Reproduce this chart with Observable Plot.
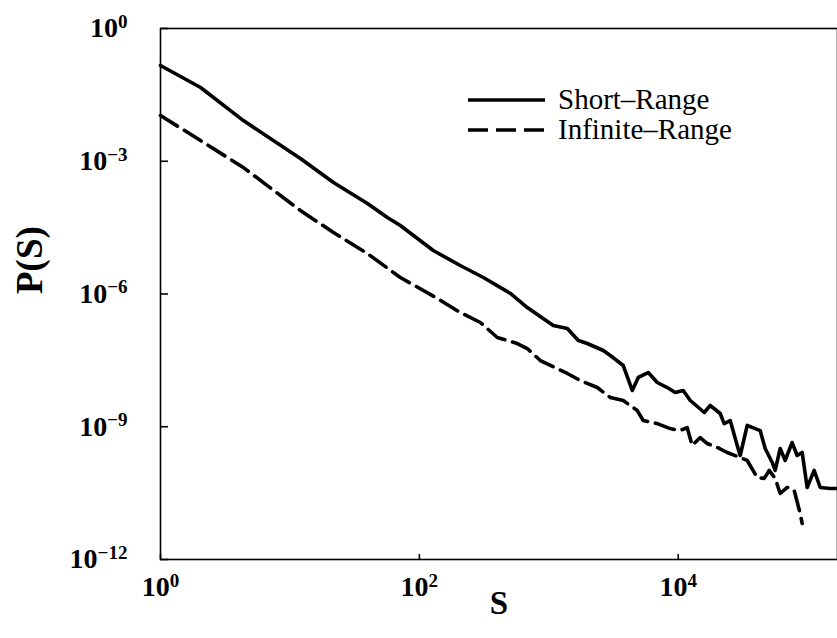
<!DOCTYPE html>
<html>
<head>
<meta charset="utf-8">
<script src="https://cdn.jsdelivr.net/npm/d3@7"></script>
<script src="https://cdn.jsdelivr.net/npm/@observablehq/plot@0.6"></script>
<style>
  html, body { margin: 0; padding: 0; background: #fff; }
  #chart { position: relative; width: 837px; height: 638px; }
</style>
</head>
<body>
<div id="chart"></div>
<script>
// Short-Range series (S, P(S))
const shortS = [1, 2.04, 4.37, 12.05, 21.7, 39.7, 56.6, 71.3, 128, 207, 312, 505, 682, 1083, 1390, 1690, 1983, 2636, 2986, 3760, 4414, 4910, 5867, 6885, 8224, 9480, 10930, 12390, 15890, 17660, 21090, 22650, 25210, 28560, 30120, 34110, 39350, 42960, 46970, 53210, 56100, 61340, 67000, 75860, 82940, 90700, 99100, 112200, 125000, 149300, 169000];
const shortP = [0.146, 4.64e-2, 8.3e-3, 1.15e-3, 3.31e-4, 1.11e-4, 5.36e-5, 3.53e-5, 9.6e-6, 4.41e-6, 2.36e-6, 1.03e-6, 4.95e-7, 1.94e-7, 1.66e-7, 8.9e-8, 7.6e-8, 5.28e-8, 4.07e-8, 2.42e-8, 6.6e-9, 1.30e-8, 1.68e-8, 1.0e-8, 7.7e-9, 5.94e-9, 6.6e-9, 3.92e-9, 2.10e-9, 3.02e-9, 1.99e-9, 1.18e-9, 1.38e-9, 3.77e-10, 2.24e-10, 1.07e-9, 9.1e-10, 8.2e-10, 3.22e-10, 1.56e-10, 1.03e-10, 3.22e-10, 1.73e-10, 4.4e-10, 2.24e-10, 2.62e-10, 4.24e-11, 1.03e-10, 4.24e-11, 4.03e-11, 4.03e-11];

// Infinite-Range series (S, P(S))
const infS = [1, 2.04, 4.37, 12.05, 21.7, 39.7, 71.3, 138, 207, 296, 400, 571, 682, 860, 1390, 1750, 2370, 2986, 3760, 4820, 5370, 6885, 8670, 10350, 11720, 12820, 14790, 16750, 20000, 23890, 30120, 34110, 40770, 46160, 50460, 56100, 61340, 69500, 78700, 87500, 90700];
const infP = [1.08e-2, 2.94e-3, 7.2e-4, 7.7e-5, 2.45e-5, 8.2e-6, 2.36e-6, 7.9e-7, 3.82e-7, 2.27e-7, 1.04e-7, 7.6e-8, 5.86e-8, 3.14e-8, 1.60e-8, 1.11e-8, 7.7e-9, 4.58e-9, 3.92e-9, 2.33e-9, 1.38e-9, 1.18e-9, 9.1e-10, 8.2e-10, 9.6e-10, 3.77e-10, 5.71e-10, 4.18e-10, 3.40e-10, 2.62e-10, 2.02e-10, 1.73e-10, 7.1e-11, 6.8e-11, 1.03e-10, 6.8e-11, 3.10e-11, 4.24e-11, 3.62e-11, 1.10e-11, 6.5e-12];

const xTicks = [1, 1e2, 1e4];
const yTicks = [1, 1e-3, 1e-6, 1e-9, 1e-12];
const seriesNames = ["Short\u2013Range", "Infinite\u2013Range"];
const xLabel = "S";
const yLabel = "P(S)";

const shortData = shortS.map((s, i) => ({S: s, P: shortP[i]}));
const infData = infS.map((s, i) => ({S: s, P: infP[i]}));

const expFmt = d => "10^" + String(Math.round(Math.log10(d))).replace("-", "\u2212");

const FONT = "'Liberation Serif', 'DejaVu Serif', serif";

const chart = Plot.plot({
  width: 837,
  height: 638,
  marginLeft: 160,
  marginRight: 0,
  marginTop: 28,
  marginBottom: 79,
  style: {fontFamily: FONT, background: "white", color: "black"},
  x: {type: "log", domain: [1, 1.7e5]},
  y: {type: "log", domain: [1e-12, 1]},
  marks: [
    Plot.frame({stroke: "black", strokeWidth: 1.6}),
    Plot.tickY(yTicks, {y: d => d, insetRight: 669, stroke: "black", strokeWidth: 1.6}),
    Plot.tickX(xTicks, {x: d => d, insetTop: 526, stroke: "black", strokeWidth: 1.6}),
    Plot.axisX(xTicks, {tickSize: 0, tickPadding: 17, tickFormat: expFmt, fontSize: 28, fontWeight: "bold", label: null}),
    Plot.axisY(yTicks, {tickSize: 0, tickPadding: 33, tickFormat: expFmt, fontSize: 28, fontWeight: "bold", label: null}),
    Plot.line(shortData, {x: "S", y: "P", stroke: "black", strokeWidth: 3.6, strokeLinejoin: "round"}),
    Plot.line(infData, {x: "S", y: "P", stroke: "black", strokeWidth: 3.6, strokeDasharray: "20,8", strokeLinejoin: "round"}),
    Plot.text([xLabel], {frameAnchor: "bottom", dy: 44, fontSize: 33, fontWeight: "bold", lineAnchor: "middle"}),
    Plot.text([yLabel], {frameAnchor: "left", dx: -130, rotate: -90, fontSize: 37, fontWeight: "bold", lineAnchor: "middle"})
  ]
});

// superscript exponents on tick labels
chart.querySelectorAll('g[aria-label$="tick label"] text').forEach(t => {
  const txt = t.textContent;
  if (!txt.includes("^")) return;
  const [b, e] = txt.split("^");
  t.textContent = b;
  const ts = document.createElementNS("http://www.w3.org/2000/svg", "tspan");
  ts.setAttribute("dy", "-0.5em");
  ts.style.fontSize = "68%";
  ts.textContent = e;
  t.appendChild(ts);
});

// legend inside the plot (top right)
const svg = d3.select(chart);
const leg = svg.append("g")
  .attr("font-family", FONT)
  .attr("font-size", 29)
  .attr("text-anchor", "start");
const rows = [{y: 100, dash: null}, {y: 130, dash: "20,8"}];
rows.forEach((r, i) => {
  leg.append("line")
    .attr("x1", 468).attr("x2", 545).attr("y1", r.y).attr("y2", r.y)
    .attr("stroke", "black").attr("stroke-width", 3.6)
    .attr("stroke-dasharray", r.dash);
  leg.append("text")
    .attr("x", 558).attr("y", r.y).attr("dy", "0.32em")
    .attr("text-anchor", "start")
    .attr("fill", "black")
    .text(seriesNames[i]);
});

document.getElementById("chart").appendChild(chart);
</script>
</body>
</html>
